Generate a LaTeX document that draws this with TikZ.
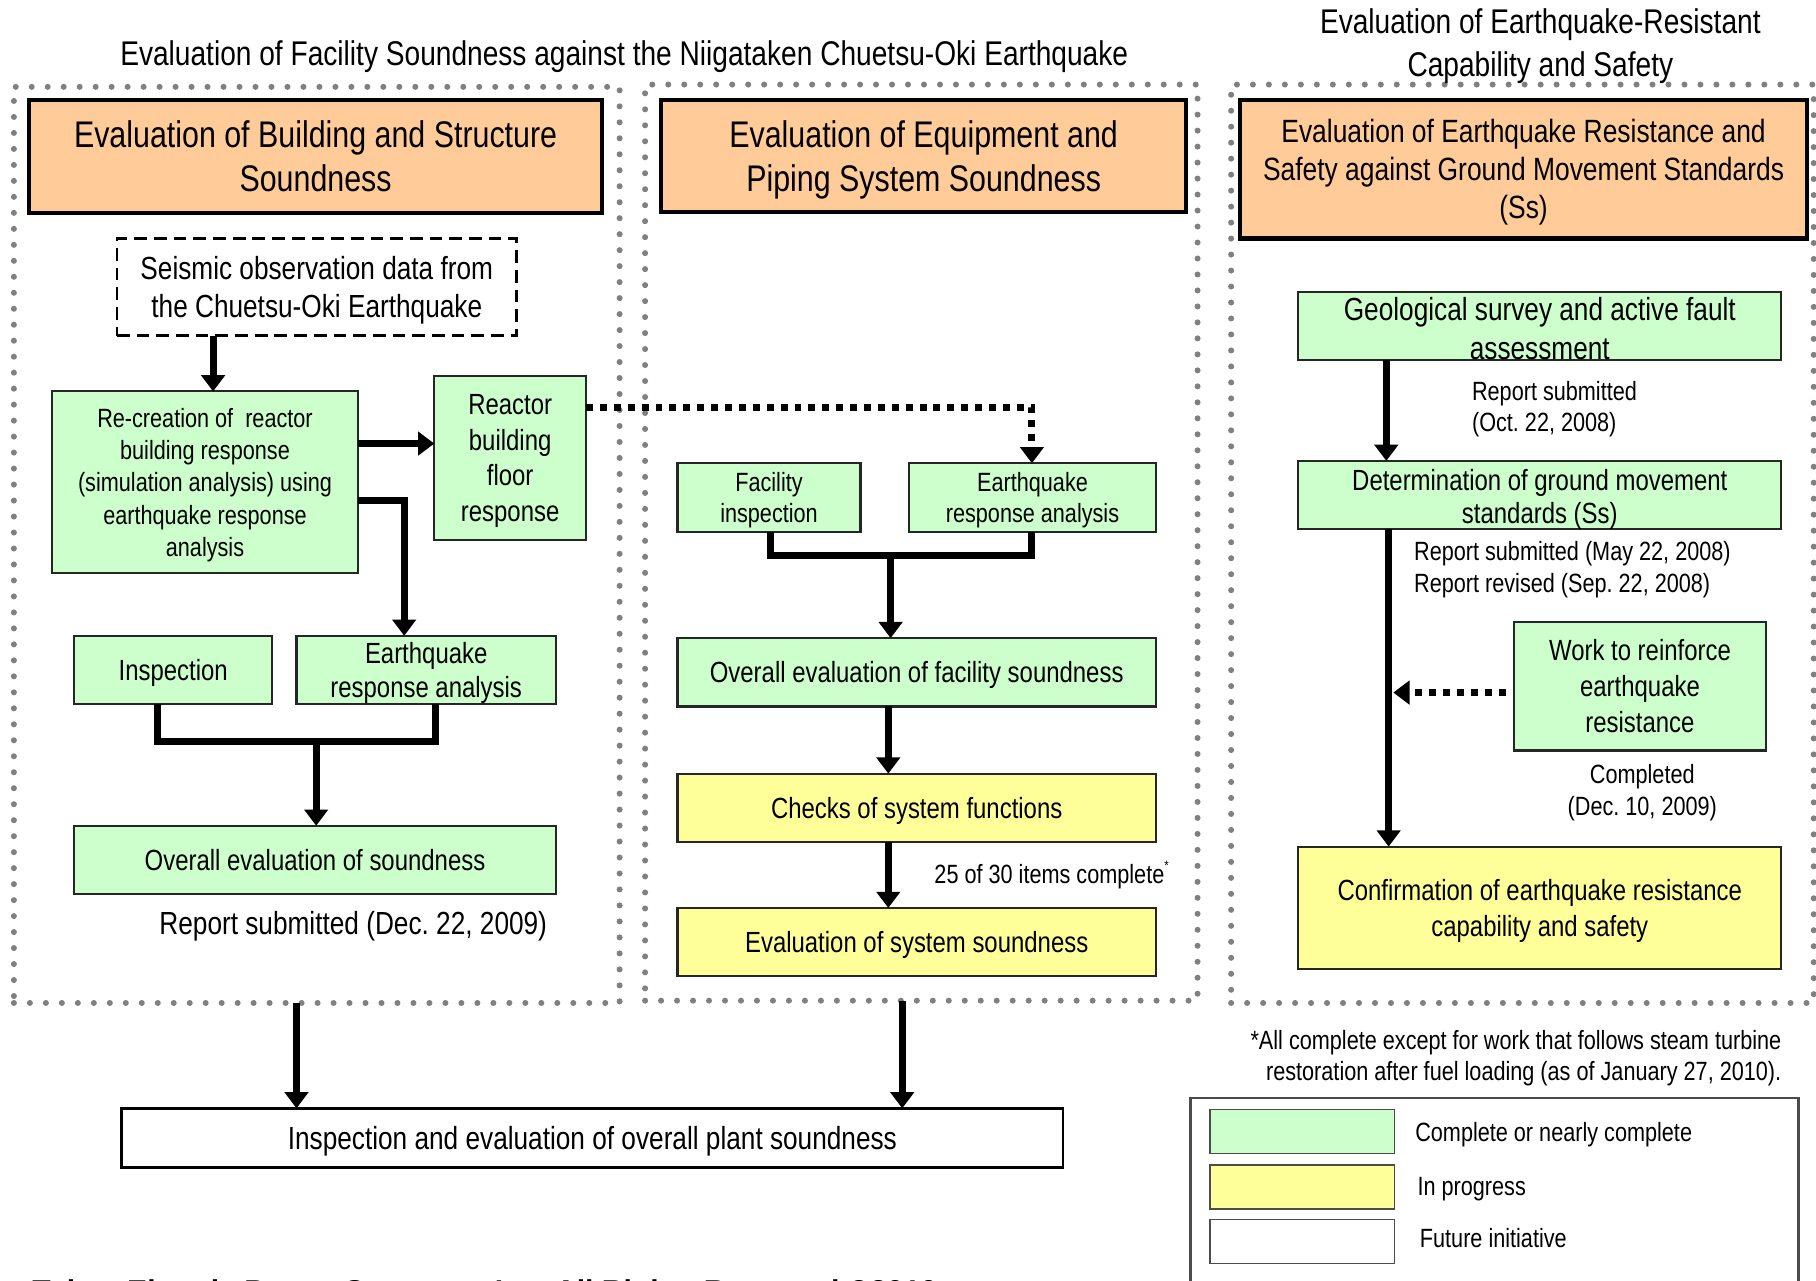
\documentclass[tikz,border=0pt]{standalone}
\usepackage{fontspec}
\setmainfont{Liberation Sans}[FakeStretch=0.82]
\newfontfamily\footfont{Liberation Sans}
\usetikzlibrary{arrows.meta,calc}
\definecolor{orangebox}{HTML}{FFCC99}
\definecolor{greenbox}{HTML}{CCFFCC}
\definecolor{yellowbox}{HTML}{FFFF99}
\definecolor{dotgray}{HTML}{808080}
\newcommand{\myfs}[2]{\fontsize{#1}{#2}\selectfont}
\frenchspacing
\begin{document}
\begin{tikzpicture}[x=0.5pt,y=-0.5pt,
  every node/.style={inner sep=0pt, outer sep=0pt, text depth=0pt},
  panel/.style={draw=dotgray, line width=2.6pt, line cap=round, dash pattern=on 0pt off 6.9pt},
  obox/.style={draw=black, line width=1.8pt, fill=orangebox, align=center},
  gbox/.style={draw=black!85, line width=0.9pt, fill=greenbox, align=center},
  ybox/.style={draw=black!85, line width=0.9pt, fill=yellowbox, align=center},
  wbox/.style={draw=black, line width=1.1pt, fill=white, align=center},
  dbox/.style={draw=black, line width=1.2pt, dash pattern=on 5.5pt off 3pt, align=center},
  arr/.style={line width=3pt, -{Triangle[width=10pt,length=7pt]}},
  bar/.style={line width=3pt},
  darr/.style={line width=3pt, dash pattern=on 3pt off 3pt, -{Triangle[width=10pt,length=7pt]}},
  swatch/.style={draw=black!70, line width=0.8pt, minimum width=79.5pt, minimum height=19pt},
]
\useasboundingbox (0,0) rectangle (1568,1106);

% panels
\node[panel, minimum width=261.5pt, minimum height=395.5pt] (p1) at (273.5,470.5) {};
\node[panel, minimum width=238.5pt, minimum height=395.5pt] (p2) at (795.5,468.5) {};
\node[panel, minimum width=251.5pt, minimum height=396.5pt] (p3) at (1314.5,469.5) {};

% titles
\node[font=\myfs{14.8}{18.5}] (t1) at (539,46) {Evaluation of Facility Soundness against the Niigataken Chuetsu-Oki Earthquake};
\node[font=\myfs{14.8}{18.5}, align=center] (t2) at (1330,37) {Evaluation of Earthquake-Resistant\\Capability and Safety};

% orange headers
\node[obox, minimum width=247.5pt, minimum height=49pt, font=\myfs{16}{19}] (b1) at (272.5,135) {Evaluation of Building and Structure\\Soundness};
\node[obox, minimum width=226.5pt, minimum height=48.5pt, font=\myfs{16}{19}] (b2) at (797.5,134.5) {Evaluation of Equipment and\\Piping System Soundness};
\node[obox, minimum width=244.5pt, minimum height=60pt, font=\myfs{13.9}{16.5}] (b3) at (1315.5,146) {Evaluation of Earthquake Resistance and\\Safety against Ground Movement Standards\\(Ss)};

% left panel
\node[dbox, minimum width=172.5pt, minimum height=42pt, font=\myfs{13.8}{16.5}] (seis) at (273.5,248) {Seismic observation data from\\the Chuetsu-Oki Earthquake};
\node[gbox, minimum width=132pt, minimum height=78.5pt, font=\myfs{11.4}{13.9}] (rec) at (177,416.5) {Re-creation of\ \ reactor\\building response\\(simulation analysis) using\\earthquake response\\analysis};
\node[gbox, minimum width=65.5pt, minimum height=70.5pt, font=\myfs{12.6}{15.3}] (rbf) at (440.5,395.5) {Reactor\\building\\floor\\response};
\node[gbox, minimum width=85.5pt, minimum height=29.5pt, font=\myfs{12.6}{15}] (insp) at (149.5,578.5) {Inspection};
\node[gbox, minimum width=112pt, minimum height=29.5pt, font=\myfs{12.6}{15}] (era1) at (368,578.5) {Earthquake\\response analysis};
\node[gbox, minimum width=208pt, minimum height=29.5pt, font=\myfs{12.6}{15}] (ov1) at (272,742.5) {Overall evaluation of soundness};
\node[font=\myfs{13.8}{16.5}] (rep1) at (305,797) {Report submitted (Dec. 22, 2009)};

% middle panel
\node[gbox, minimum width=79pt, minimum height=29.5pt, font=\myfs{11.4}{13.5}] (fac) at (664,429.5) {Facility\\inspection};
\node[gbox, minimum width=106.5pt, minimum height=29.5pt, font=\myfs{11.4}{13.5}] (era2) at (891.5,429.5) {Earthquake\\response analysis};
\node[gbox, minimum width=206.5pt, minimum height=29.5pt, font=\myfs{12.6}{15}] (ov2) at (791.5,580.5) {Overall evaluation of facility soundness};
\node[ybox, minimum width=206.5pt, minimum height=29.5pt, font=\myfs{12.6}{15}] (chk) at (791.5,697.5) {Checks of system functions};
\node[ybox, minimum width=206.5pt, minimum height=29.5pt, font=\myfs{12.6}{15}] (evs) at (791.5,813.5) {Evaluation of system soundness};
\node[font=\myfs{11.4}{13.5}] (n25) at (908,753) {25 of 30 items complete\raisebox{0.9ex}{\myfs{6}{6}*}};

% plant box
\node[wbox, minimum width=406.5pt, minimum height=25.5pt, font=\myfs{13.8}{16.5}] (plant) at (511.5,982.5) {Inspection and evaluation of overall plant soundness};

% right panel
\node[gbox, minimum width=208.5pt, minimum height=29.5pt] (geo) at (1329.5,281.5) {};
\node[font=\myfs{13.8}{16.5}, align=center] (geot) at (1329.5,283.5) {Geological survey and active fault\\assessment};
\node[font=\myfs{11.4}{13.5}, align=left, anchor=west] (rep2) at (1271,351) {Report submitted\\(Oct. 22, 2008)};
\node[gbox, minimum width=208.5pt, minimum height=29.5pt] (det) at (1329.5,427.5) {};
\node[font=\myfs{12.6}{14.5}, align=center] (dett) at (1329.5,428.5) {Determination of ground movement\\standards (Ss)};
\node[font=\myfs{11.4}{14}, align=left, anchor=west] (rep3) at (1221,489.5) {Report submitted (May 22, 2008)\\Report revised (Sep. 22, 2008)};
\node[gbox, minimum width=109pt, minimum height=55.5pt, font=\myfs{12.6}{15.5}] (work) at (1416,592.5) {Work to reinforce\\earthquake\\resistance};
\node[font=\myfs{11.4}{13.5}, align=center] (comp) at (1418,682) {Completed\\(Dec. 10, 2009)};
\node[ybox, minimum width=208.5pt, minimum height=53pt, font=\myfs{12.6}{15.5}] (conf) at (1329.5,784) {Confirmation of earthquake resistance\\capability and safety};

% footnote
\node[font=\myfs{11.4}{13.5}, align=right, anchor=east] (foot) at (1538,911) {*All complete except for work that follows steam turbine\\restoration after fuel loading (as of January 27, 2010).};

% legend
\node[draw=black!70, line width=1pt, minimum width=262.5pt, minimum height=90pt] (leg) at (1290.5,1038) {};
\node[swatch, fill=greenbox] (lg) at (1124.5,977) {};
\node[swatch, fill=yellowbox] (ly) at (1124.5,1025) {};
\node[swatch, fill=white] (lw) at (1124.5,1072) {};
\node[anchor=west, font=\myfs{11.4}{13.5}] (lgt) at (1222,977) {Complete or nearly complete};
\node[anchor=west, font=\myfs{11.4}{13.5}] (lyt) at (1224,1024) {In progress};
\node[anchor=west, font=\myfs{11.4}{13.5}] (lwt) at (1226,1069) {Future initiative};

% footer (cut by page edge, as in the reference)
\node[anchor=base west, font=\footfont\bfseries\fontsize{13}{15}\selectfont] (copy) at (28,1123.6) {Tokyo Electric Power Company, Inc. All Rights Reserved ©2010};

% connectors
\coordinate (x184) at (184,0);
\coordinate (y383) at (0,383);
\coordinate (y432) at (0,432);
\coordinate (c349) at (349,432);
\draw[arr] (seis.south -| x184) -- (rec.north -| x184);
\draw[arr] (rec.east |- y383) -- (rbf.west |- y383);
\draw[arr] (rec.east |- y432) -- (c349) -- (era1.north -| c349);

\coordinate (m1l) at (136,640);
\coordinate (m1r) at (376,640);
\coordinate (m1c) at (273,640);
\draw[bar] (insp.south -| m1l) -- (m1l) -- (m1r) -- (era1.south -| m1r);
\draw[arr] (m1c) -- (ov1.north -| m1c);

\coordinate (d1) at (891,352);
\draw[darr] (rbf.east |- d1) -- (d1) -- (era2.north -| d1);

\coordinate (m2l) at (665,480);
\coordinate (m2r) at (891,480);
\coordinate (m2c) at (769,480);
\draw[bar] (fac.south -| m2l) -- (m2l) -- (m2r) -- (era2.south -| m2r);
\draw[arr] (m2c) -- (ov2.north -| m2c);
\coordinate (x767) at (767,0);
\draw[arr] (ov2.south -| x767) -- (chk.north -| x767);
\draw[arr] (chk.south -| x767) -- (evs.north -| x767);

\coordinate (x256) at (256,0);
\coordinate (x779) at (779,0);
\draw[arr] (p1.south -| x256) -- (plant.north -| x256);
\draw[arr] (p2.south -| x779) -- (plant.north -| x779);

\coordinate (x1197) at (1197,0);
\draw[arr] (geo.south -| x1197) -- (det.north -| x1197);
\coordinate (x1199) at (1199,0);
\draw[arr] (det.south -| x1199) -- (conf.north -| x1199);
\coordinate (w1) at (1203,598);
\draw[darr, shorten <=3.5pt] (work.west |- w1) -- (w1);
\end{tikzpicture}
\end{document}
